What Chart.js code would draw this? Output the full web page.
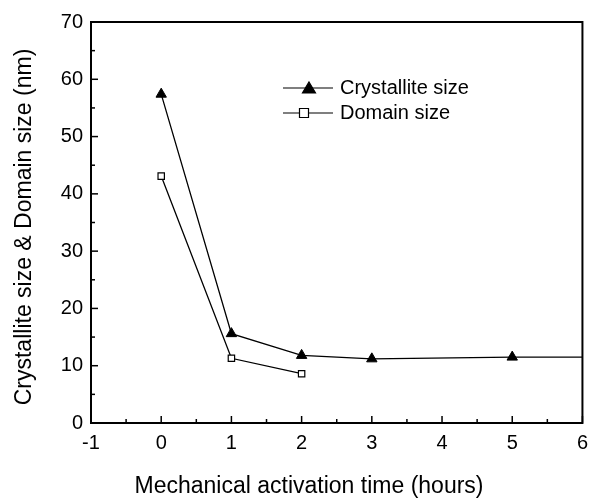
<!DOCTYPE html>
<html><head><meta charset="utf-8">
<script src="https://cdn.jsdelivr.net/npm/chart.js@4.4.0/dist/chart.umd.min.js"></script>
<style>html,body{margin:0;padding:0;background:#fff;}#w{width:596px;height:500px;}</style>
</head><body><div id="w"><canvas id="c"></canvas></div>
<script>
const crystalliteX = [0, 1, 2, 3, 5, 6];
const crystalliteY = [57.4, 15.6, 11.8, 11.2, 11.5, 11.5];
const crystalliteMarker = [true, true, true, true, true, false];
const domainX = [0, 1, 2];
const domainY = [43.1, 11.3, 8.6];
const xTicks = [-1, 0, 1, 2, 3, 4, 5, 6];
const yTicks = [0, 10, 20, 30, 40, 50, 60, 70];
const legendLabels = ['Crystallite size', 'Domain size'];
const xTitle = 'Mechanical activation time (hours)';
const yTitle = 'Crystallite size & Domain size (nm)';

const FONT = '"Liberation Sans", Arial, sans-serif';

const framePlugin = {
  id: 'frame',
  afterDraw(chart) {
    const ctx = chart.ctx, a = chart.chartArea;
    const xs = chart.scales.x, ys = chart.scales.y;
    ctx.save();
    ctx.strokeStyle = '#000';
    ctx.lineWidth = 2;
    ctx.strokeRect(a.left, a.top, a.right - a.left, a.bottom - a.top);
    ctx.lineWidth = 1.5;
    for (let v = xTicks[0]; v <= xTicks[xTicks.length - 1] + 1e-9; v += 0.5) {
      const px = xs.getPixelForValue(v);
      const major = Math.abs(v - Math.round(v)) < 1e-9;
      ctx.beginPath(); ctx.moveTo(px, a.bottom); ctx.lineTo(px, a.bottom - (major ? 7 : 4)); ctx.stroke();
    }
    for (let v = yTicks[0]; v <= yTicks[yTicks.length - 1] + 1e-9; v += 5) {
      const py = ys.getPixelForValue(v);
      const major = v % 10 === 0;
      ctx.beginPath(); ctx.moveTo(a.left, py); ctx.lineTo(a.left + (major ? 7 : 4), py); ctx.stroke();
    }
    // axis titles
    ctx.fillStyle = '#000';
    ctx.font = '23px ' + FONT;
    ctx.textAlign = 'center';
    ctx.textBaseline = 'middle';
    ctx.fillText(xTitle, 309, 487);
    ctx.save();
    ctx.translate(25, 227);
    ctx.rotate(-Math.PI / 2);
    ctx.fillText(yTitle, 0, 0);
    ctx.restore();
    // legend
    const lx0 = 283, lx1 = 333, tx = 340;
    const ly = [88, 113];
    const mx = [309, 304];
    ctx.font = '20px ' + FONT;
    ctx.textAlign = 'left';
    ctx.textBaseline = 'middle';
    ctx.lineWidth = 1.2;
    legendLabels.forEach((lab, i) => {
      ctx.strokeStyle = '#000';
      ctx.beginPath(); ctx.moveTo(lx0, ly[i]); ctx.lineTo(lx1, ly[i]); ctx.stroke();
      const cx = mx[i];
      ctx.fillStyle = i === 0 ? '#000' : '#fff';
      ctx.beginPath();
      if (i === 0) {
        ctx.moveTo(cx, ly[i] - 6); ctx.lineTo(cx + 6.5, ly[i] + 5); ctx.lineTo(cx - 6.5, ly[i] + 5); ctx.closePath();
      } else {
        ctx.rect(cx - 4.5, ly[i] - 4.5, 9, 9);
      }
      ctx.fill(); ctx.stroke();
      ctx.fillStyle = '#000';
      ctx.fillText(lab, tx, ly[i]);
    });
    ctx.restore();
  }
};

new Chart(document.getElementById('c'), {
  type: 'scatter',
  data: {
    datasets: [
      {
        label: legendLabels[0],
        data: crystalliteX.map((x, i) => ({x, y: crystalliteY[i]})),
        showLine: true, borderColor: '#000', borderWidth: 1.3,
        pointStyle: 'triangle', backgroundColor: '#000', pointBorderColor: '#000',
        pointRadius: crystalliteMarker.map(m => m ? 6 : 0), pointBorderWidth: 1
      },
      {
        label: legendLabels[1],
        data: domainX.map((x, i) => ({x, y: domainY[i]})),
        showLine: true, borderColor: '#000', borderWidth: 1.3,
        pointStyle: 'rect', backgroundColor: '#fff', pointBorderColor: '#000',
        pointRadius: 4.5, pointBorderWidth: 1.2
      }
    ]
  },
  options: {
    responsive: true, maintainAspectRatio: false, animation: false,
    layout: { padding: { top: 22, right: 7, left: 0, bottom: 0 } },
    plugins: { legend: { display: false }, tooltip: { enabled: false } },
    scales: {
      x: {
        type: 'linear', min: xTicks[0], max: xTicks[xTicks.length - 1],
        afterBuildTicks: s => { s.ticks = xTicks.map(v => ({value: v})); },
        afterFit: s => { s.height = 77; },
        grid: { display: false, drawTicks: false },
        border: { display: false },
        ticks: { color: '#000', font: { size: 20, family: FONT }, padding: 8 },
        title: { display: false }
      },
      y: {
        type: 'linear', min: yTicks[0], max: yTicks[yTicks.length - 1],
        afterBuildTicks: s => { s.ticks = yTicks.map(v => ({value: v})); },
        afterFit: s => { s.width = 91; },
        grid: { display: false, drawTicks: false },
        border: { display: false },
        ticks: { color: '#000', font: { size: 20, family: FONT }, padding: 8 },
        title: { display: false }
      }
    }
  },
  plugins: [framePlugin]
});
</script>
</body></html>
